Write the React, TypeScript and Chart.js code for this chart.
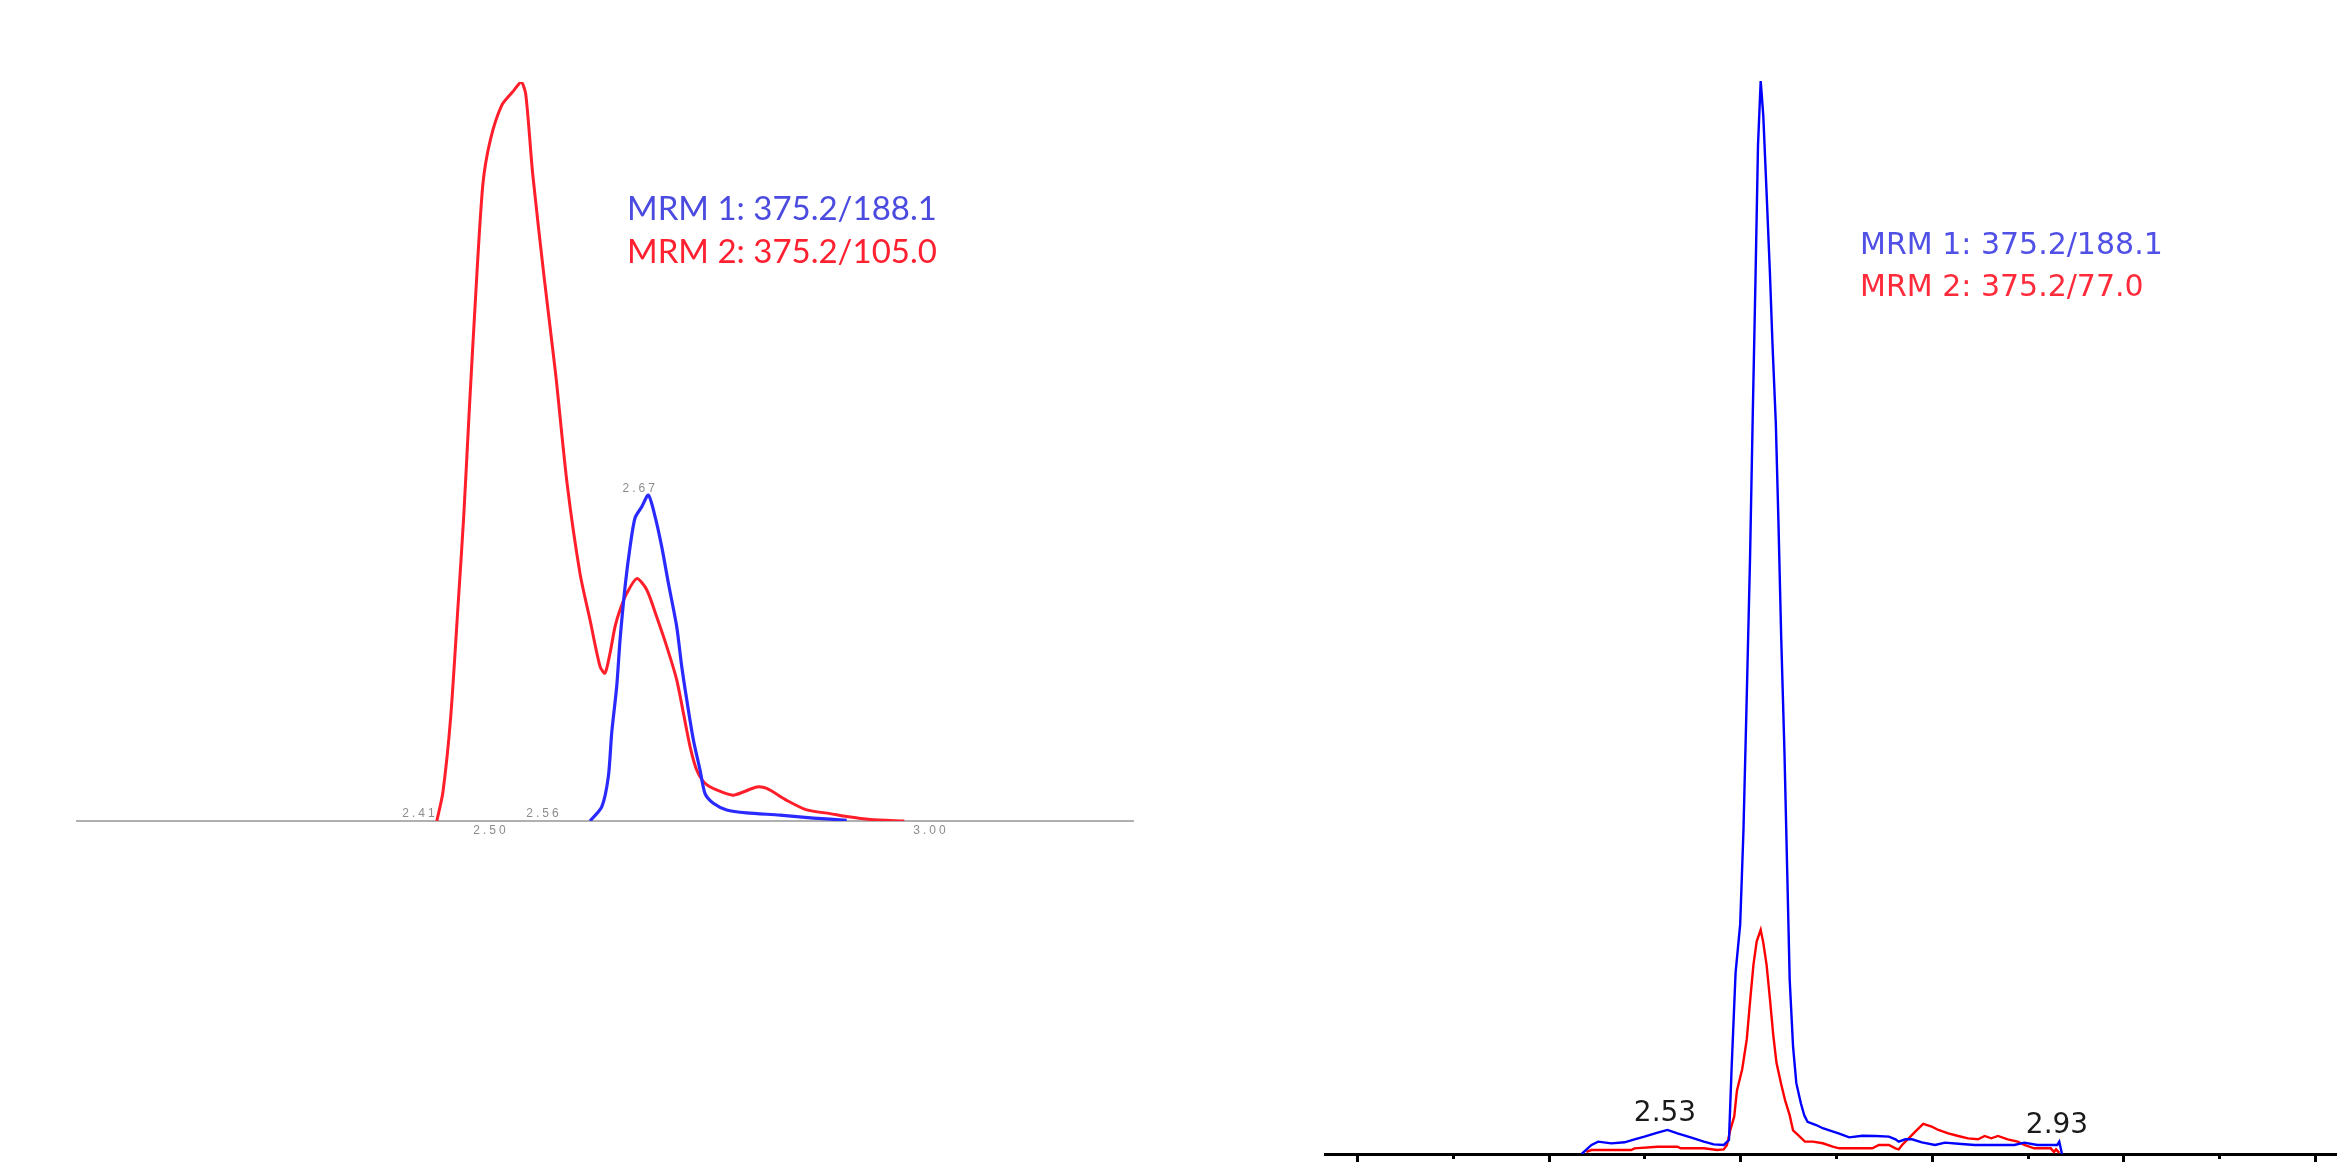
import React, { useEffect, useRef } from "react";
import { Chart, registerables } from "chart.js";

Chart.register(...registerables);

// ---------------- Left panel: retention time (min) / relative intensity (%) ----------------
const A_MRM1_TIME = [2.6125, 2.6258, 2.6333, 2.6371, 2.6428, 2.6466, 2.6523, 2.658, 2.6636, 2.6712, 2.6788, 2.6864, 2.694, 2.7015, 2.711, 2.7167, 2.7224, 2.7299, 2.7375, 2.7432, 2.7526, 2.7678, 2.7905, 2.8284, 2.8663, 2.9042];
const A_MRM1_INT = [0, 1.9, 6.0, 11.9, 18.2, 24.5, 31.7, 37.1, 41.0, 42.5, 44.1, 41.2, 37.1, 32.2, 26.3, 20.9, 16.4, 11.0, 6.9, 3.7, 2.4, 1.5, 1.1, 0.8, 0.4, 0.1];
const A_MRM2_TIME = [2.4384, 2.4453, 2.4541, 2.4627, 2.4689, 2.475, 2.4819, 2.4906, 2.4993, 2.5124, 2.5255, 2.5342, 2.5394, 2.5473, 2.5603, 2.5734, 2.5864, 2.6011, 2.6125, 2.6239, 2.6295, 2.6352, 2.6409, 2.6466, 2.6542, 2.6656, 2.6769, 2.6883, 2.6997, 2.711, 2.7186, 2.7261, 2.7337, 2.7432, 2.7564, 2.7754, 2.8019, 2.8133, 2.836, 2.8588, 2.8852, 2.9042, 2.9307, 2.9696];
const A_MRM2_INT = [0, 3.9, 14.0, 29.5, 41.1, 55.0, 69.8, 86.0, 92.2, 96.9, 98.8, 100, 98.4, 87.6, 73.6, 60.5, 45.7, 33.5, 27.2, 20.9, 20.0, 22.7, 26.3, 28.6, 30.8, 32.8, 31.3, 27.6, 23.6, 19.1, 14.6, 10.1, 6.9, 5.1, 4.2, 3.5, 4.6, 4.4, 2.8, 1.5, 1.0, 0.6, 0.2, 0];
const A_LEGEND = ["MRM 1: 375.2/188.1", "MRM 2: 375.2/105.0"];
const A_PEAK_LABELS = ["2.41", "2.56", "2.67"];
const A_PEAK_LABEL_TIME = [2.4193, 2.5602, 2.6695];
const A_PEAK_LABEL_INT = [0.54, 0.54, 44.5];
const A_TICK_LABELS = ["2.50", "3.00"];
const A_TICK_VALUES = [2.5, 3.0];
const A_X_MIN = 2.0295;
const A_X_MAX = 3.2295;

// ---------------- Right panel ----------------
const B_MRM1_TIME = [2.4345, 2.4448, 2.4517, 2.4655, 2.4793, 2.4897, 2.5, 2.5138, 2.5241, 2.5345, 2.5483, 2.5621, 2.5724, 2.5828, 2.5883, 2.591, 2.5952, 2.6, 2.6034, 2.6069, 2.6103, 2.6131, 2.6159, 2.6186, 2.6214, 2.6241, 2.6276, 2.631, 2.6338, 2.6372, 2.64, 2.6428, 2.6462, 2.649, 2.6517, 2.6552, 2.6586, 2.6634, 2.6669, 2.6703, 2.6793, 2.6862, 2.6931, 2.7034, 2.7138, 2.7276, 2.7414, 2.7552, 2.7621, 2.7655, 2.7724, 2.7793, 2.7897, 2.8034, 2.8138, 2.831, 2.8448, 2.8655, 2.8862, 2.8966, 2.9103, 2.931, 2.9331, 2.9359];
const B_MRM1_INT = [0, 0.84, 1.15, 0.99, 1.09, 1.37, 1.62, 1.99, 2.24, 1.93, 1.55, 1.15, 0.9, 0.84, 1.3, 7.9, 16.9, 21.4, 30.1, 42.8, 55.6, 68.8, 81.2, 94.0, 100, 96.8, 89.5, 82.2, 75.3, 68.1, 58.7, 48.2, 37.5, 26.7, 16.2, 10.0, 6.6, 4.7, 3.6, 3.0, 2.7, 2.4, 2.2, 1.9, 1.55, 1.7, 1.68, 1.62, 1.37, 1.15, 1.37, 1.37, 1.09, 0.84, 1.06, 0.93, 0.84, 0.84, 0.84, 1.06, 0.84, 0.84, 1.15, 0];
const B_MRM2_TIME = [2.4393, 2.4448, 2.4655, 2.4862, 2.4897, 2.5138, 2.5345, 2.5379, 2.5621, 2.5759, 2.5828, 2.5862, 2.5897, 2.5938, 2.5966, 2.6021, 2.6069, 2.6103, 2.6138, 2.6172, 2.6214, 2.6241, 2.6276, 2.631, 2.6345, 2.6379, 2.6428, 2.6469, 2.6517, 2.6552, 2.66, 2.6676, 2.6759, 2.6862, 2.6966, 2.7034, 2.7172, 2.7379, 2.7448, 2.7552, 2.7621, 2.7655, 2.769, 2.7759, 2.7828, 2.791, 2.8, 2.8069, 2.8172, 2.8276, 2.8379, 2.8483, 2.8552, 2.8621, 2.869, 2.8793, 2.8897, 2.8966, 2.9069, 2.9241, 2.9276, 2.9297, 2.9331];
const B_MRM2_INT = [0.2, 0.37, 0.37, 0.37, 0.53, 0.68, 0.68, 0.53, 0.53, 0.37, 0.43, 0.84, 2.24, 3.5, 5.9, 7.9, 10.7, 14.2, 17.6, 19.8, 20.9, 19.7, 17.6, 14.5, 11.1, 8.5, 6.5, 5.0, 3.6, 2.2, 1.8, 1.15, 1.15, 1.0, 0.68, 0.53, 0.53, 0.53, 0.84, 0.84, 0.53, 0.43, 0.84, 1.46, 2.08, 2.8, 2.55, 2.24, 1.93, 1.68, 1.46, 1.37, 1.68, 1.46, 1.68, 1.37, 1.15, 0.84, 0.53, 0.53, 0.2, 0.43, 0.1];
const B_LEGEND = ["MRM 1: 375.2/188.1", "MRM 2: 375.2/77.0"];
const B_PEAK_LABELS = ["2.53", "2.93"];
const B_PEAK_LABEL_TIME = [2.5215, 2.9307];
const B_PEAK_LABEL_INT = [3.08, 1.96];
const B_TICK_VALUES = [2.2, 2.3, 2.4, 2.5, 2.6, 2.7, 2.8, 2.9, 3.0, 3.1, 3.2];
const B_X_MIN = 2.1666;
const B_X_MAX = 3.223;

const zip = (xs: number[], ys: number[]) => xs.map((x, i) => ({ x, y: ys[i] }));

function leftConfig(): any {
  const textPlugin = {
    id: "leftText",
    afterDraw(chart: any) {
      const { ctx } = chart;
      const x = chart.scales.x;
      const y = chart.scales.y;
      ctx.save();
      ctx.textBaseline = "alphabetic";
      ctx.textAlign = "left";
      ctx.font = '33px Lato, "Open Sans", sans-serif';
      ctx.fillStyle = "#4b4be0";
      ctx.fillText(A_LEGEND[0], 627, 220);
      ctx.fillStyle = "#ff2030";
      ctx.fillText(A_LEGEND[1], 627, 263);
      ctx.textAlign = "center";
      ctx.font = '12px "Liberation Sans", sans-serif';
      ctx.fillStyle = "#8c8c8c";
      (ctx as any).letterSpacing = "3px";
      A_PEAK_LABELS.forEach((s, i) => {
        ctx.fillText(s, x.getPixelForValue(A_PEAK_LABEL_TIME[i]), y.getPixelForValue(A_PEAK_LABEL_INT[i]));
      });
      const base = y.getPixelForValue(0);
      A_TICK_LABELS.forEach((s, i) => {
        ctx.fillText(s, x.getPixelForValue(A_TICK_VALUES[i]), base + 13);
      });
      ctx.restore();
    },
  };
  return {
    type: "line",
    data: {
      datasets: [
        { label: A_LEGEND[0], data: zip(A_MRM1_TIME, A_MRM1_INT), borderColor: "#2a2aff", borderWidth: 3.2, tension: 0.25, pointRadius: 0, fill: false },
        { label: A_LEGEND[1], data: zip(A_MRM2_TIME, A_MRM2_INT), borderColor: "#ff1e2a", borderWidth: 3, tension: 0.25, pointRadius: 0, fill: false },
      ],
    },
    options: {
      animation: false,
      responsive: false,
      devicePixelRatio: 1,
      layout: { padding: { left: 77, right: 107, top: 82, bottom: 341 } },
      plugins: { legend: { display: false }, tooltip: { enabled: false } },
      scales: {
        x: {
          type: "linear",
          min: A_X_MIN,
          max: A_X_MAX,
          grid: { display: false, drawTicks: false },
          ticks: { display: false },
          border: { display: true, color: "#b0b0b0", width: 2 },
        },
        y: { display: false, min: 0, max: 100 },
      },
    },
    plugins: [textPlugin],
  };
}

function rightConfig(): any {
  const plugin = {
    id: "rightText",
    afterDraw(chart: any) {
      const { ctx } = chart;
      const x = chart.scales.x;
      const y = chart.scales.y;
      const bottom = chart.chartArea.bottom;
      ctx.save();
      ctx.fillStyle = "#000";
      x.ticks.forEach((t: any, i: number) => {
        const px = Math.round(x.getPixelForValue(t.value));
        const len = i % 2 === 0 ? 12 : 5;
        ctx.fillRect(px - 1, bottom, 3, len);
      });
      ctx.textBaseline = "alphabetic";
      ctx.textAlign = "left";
      ctx.font = '30px "DejaVu Sans", sans-serif';
      ctx.fillStyle = "#5050e6";
      ctx.fillText(B_LEGEND[0], 620, 254);
      ctx.fillStyle = "#ff2a3a";
      ctx.fillText(B_LEGEND[1], 620, 296);
      ctx.textAlign = "center";
      ctx.font = '28px "DejaVu Sans", sans-serif';
      ctx.fillStyle = "#1a1a1a";
      B_PEAK_LABELS.forEach((s, i) => {
        ctx.fillText(s, x.getPixelForValue(B_PEAK_LABEL_TIME[i]), y.getPixelForValue(B_PEAK_LABEL_INT[i]));
      });
      ctx.restore();
    },
  };
  return {
    type: "line",
    data: {
      datasets: [
        { label: B_LEGEND[0], data: zip(B_MRM1_TIME, B_MRM1_INT), borderColor: "#0000ff", borderWidth: 2.4, tension: 0, pointRadius: 0, fill: false },
        { label: B_LEGEND[1], data: zip(B_MRM2_TIME, B_MRM2_INT), borderColor: "#ff0000", borderWidth: 2.4, tension: 0, pointRadius: 0, fill: false },
      ],
    },
    options: {
      animation: false,
      responsive: false,
      devicePixelRatio: 1,
      layout: { padding: { left: 85, right: 0, top: 81, bottom: 26 } },
      plugins: { legend: { display: false }, tooltip: { enabled: false } },
      scales: {
        x: {
          type: "linear",
          min: B_X_MIN,
          max: B_X_MAX,
          afterBuildTicks: (scale: any) => {
            scale.ticks = B_TICK_VALUES.map((v) => ({ value: v }));
          },
          grid: { display: false, drawTicks: false },
          ticks: { display: false },
          border: { display: true, color: "#000000", width: 3 },
        },
        y: { display: false, min: 0, max: 100 },
      },
    },
    plugins: [plugin],
  };
}

function ChartCanvas({ left, width, height, makeConfig }: { left: number; width: number; height: number; makeConfig: () => any }) {
  const ref = useRef<HTMLCanvasElement | null>(null);
  useEffect(() => {
    if (!ref.current) return;
    const chart = new Chart(ref.current, makeConfig());
    return () => chart.destroy();
  }, []);
  return (
    <canvas
      ref={ref}
      width={width}
      height={height}
      style={{ position: "absolute", left, top: 0, width, height, display: "block" }}
    />
  );
}

export default function App() {
  return (
    <div style={{ position: "fixed", left: 0, top: 0, width: 2337, height: 1162, background: "#ffffff", overflow: "hidden" }}>
      <ChartCanvas left={0} width={1240} height={1162} makeConfig={leftConfig} />
      <ChartCanvas left={1240} width={1097} height={1180} makeConfig={rightConfig} />
    </div>
  );
}
